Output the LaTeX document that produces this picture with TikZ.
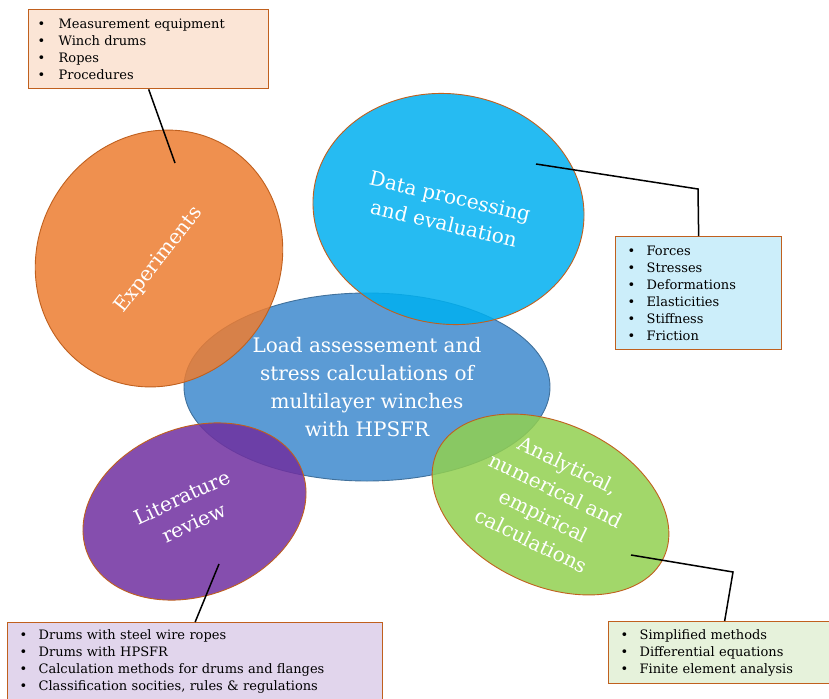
\documentclass[tikz,border=0pt]{standalone}
\usepackage{fontspec}
\setmainfont{DejaVu Serif}
\usetikzlibrary{shapes.geometric}
\definecolor{orangeF}{HTML}{ED7D31}
\definecolor{cyanF}{HTML}{00B0F0}
\definecolor{purpleF}{HTML}{7030A0}
\definecolor{greenF}{HTML}{92D050}
\definecolor{centerF}{HTML}{5B9BD5}
\definecolor{centerE}{HTML}{41719C}
\definecolor{edgeC}{HTML}{C0601E}
\definecolor{tlF}{HTML}{FBE5D6}
\definecolor{rF}{HTML}{CCEEFA}
\definecolor{blF}{HTML}{E1D5EC}
\definecolor{brF}{HTML}{E6F2DB}
\newcommand{\bl}[1]{\makebox[19pt][l]{•}#1}
\begin{document}
\begin{tikzpicture}[x=1pt,y=-1pt,
  bub/.style={ellipse, inner sep=0pt, draw=edgeC, line width=0.9pt, fill opacity=0.85, draw opacity=1},
  lbl/.style={text=white, align=center, font=\fontsize{20}{28}\selectfont, inner sep=0pt},
  listbox/.style={draw=edgeC, line width=1.3pt, anchor=north west, inner ysep=0pt,
    font=\fontsize{13}{17}\selectfont},
  conn/.style={draw=black, line width=1.5pt}]
\useasboundingbox (0,0) rectangle (829,698);
\clip (0,0) rectangle (829,698);
\fill[white] (0,0) rectangle (829,698);

% list boxes
\node[listbox, fill=tlF, inner xsep=9pt, text width=222pt, minimum height=79pt] (tlbox) at (28,9)
  {\makebox[21pt][l]{•}Measurement equipment\\\makebox[21pt][l]{•}Winch drums\\\makebox[21pt][l]{•}Ropes\\\makebox[21pt][l]{•}Procedures};
\node[listbox, fill=rF, inner xsep=12pt, text width=142pt, minimum height=113pt] (rbox) at (615,236)
  {\bl{Forces}\\\bl{Stresses}\\\bl{Deformations}\\\bl{Elasticities}\\\bl{Stiffness}\\\bl{Friction}};
\node[listbox, fill=blF, inner xsep=12pt, text width=351pt, minimum height=77pt] (blbox) at (7,622)
  {\bl{Drums with steel wire ropes}\\\bl{Drums with HPSFR}\\\bl{Calculation methods for drums and flanges}\\\bl{Classification socities, rules \& regulations}};
\node[listbox, fill=brF, inner xsep=12pt, text width=208pt, minimum height=62pt] (brbox) at (608,621)
  {\bl{Simplified methods}\\\bl{Differential equations}\\\bl{Finite element analysis}};

% bubbles
\node[bub, draw=centerE, fill=centerF, fill opacity=1, minimum width=366pt, minimum height=188pt] (core) at (367,387) {};
\node[bub, fill=orangeF, minimum width=262pt, minimum height=242pt, rotate=59] (exp) at (159,258.5) {};
\node[bub, fill=cyanF, minimum width=272pt, minimum height=230pt, rotate=-9] (data) at (448.5,209) {};
\node[bub, fill=purpleF, minimum width=230pt, minimum height=168pt, rotate=21] (lit) at (194.5,511.5) {};
\node[bub, fill=greenF, minimum width=250pt, minimum height=162pt, rotate=-25] (ana) at (550.5,504.5) {};

% labels
\node[lbl] (coreT) at (367,387) {Load assessement and\\stress calculations of\\multilayer winches\\with HPSFR};
\node[lbl, rotate=52] (expT) at (159,260) {Experiments};
\node[lbl, rotate=-13] (dataT) at (447,210) {Data processing\\and evaluation};
\node[lbl, rotate=25] (litT) at (188,510) {Literature\\review};
\node[lbl, rotate=-26] (anaT) at (550,503) {Analytical,\\numerical and\\empirical\\calculations};

% connectors
\coordinate (e1) at (175,163);
\coordinate (d1) at (536,164);
\coordinate (d2) at (698,189);
\coordinate (l1) at (219,564);
\coordinate (a1) at (631,555);
\coordinate (a2) at (733,572);
\draw[conn] (tlbox.south) -- (e1);
\draw[conn] (d1) -- (d2) -- (rbox.north);
\draw[conn] (l1) -- (blbox.north);
\draw[conn] (a1) -- (a2) -- (brbox.north);
\end{tikzpicture}
\end{document}
